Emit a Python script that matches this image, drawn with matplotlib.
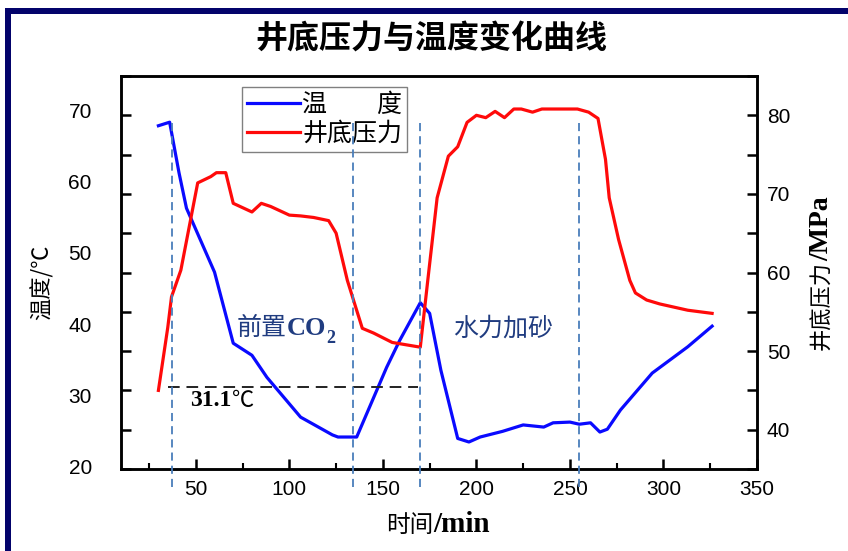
import matplotlib
matplotlib.use("Agg")
import matplotlib.pyplot as plt
import matplotlib.transforms as mtransforms
from matplotlib.patches import Rectangle
from matplotlib.font_manager import FontProperties

CJK = "Noto Sans CJK SC"
SERIF = "Liberation Serif"
plt.rcParams["font.family"] = ["Liberation Sans", CJK]

# bottom-hole temperature (time in min, temperature in ℃)
temp_time = [30, 36, 41, 45, 60, 70, 80, 88, 106, 123, 126, 136, 152, 159, 170,
             175, 181, 190, 196, 202, 214, 225, 236, 241, 250, 255, 261, 266,
             270, 277, 294, 313, 326]
temp_val = [67.9, 68.4, 61.3, 56.3, 47.3, 37.3, 35.6, 32.5, 26.9, 24.4, 24.1,
            24.1, 33.9, 37.7, 43.0, 41.5, 33.5, 23.9, 23.4, 24.1, 24.9, 25.8,
            25.5, 26.1, 26.2, 25.9, 26.1, 24.8, 25.2, 27.9, 33.1, 36.8, 39.7]

# bottom-hole pressure (time in min, pressure in MPa)
press_time = [30, 35, 37, 42, 51, 58, 61, 66, 70, 80, 85, 90, 100, 106, 113,
              121, 125, 131, 139, 145, 155, 170, 174, 179, 185, 190, 195, 200,
              205, 210, 215, 220, 224, 230, 235, 254, 260, 265, 269, 271, 276,
              282, 285, 291, 298, 313, 326]
press_val = [45.0, 53.0, 56.9, 60.3, 71.4, 72.2, 72.7, 72.7, 68.8, 67.7, 68.8,
             68.4, 67.3, 67.2, 67.0, 66.6, 65.0, 59.0, 52.9, 52.3, 51.1, 50.5,
             59.0, 69.5, 74.8, 76.0, 79.1, 80.0, 79.7, 80.5, 79.7, 80.8, 80.8,
             80.4, 80.8, 80.8, 80.4, 79.6, 74.4, 69.5, 64.2, 59.0, 57.4, 56.5,
             56.0, 55.2, 54.8]

series_names = ["温\u3000\u3000度", "井底压力"]
stage_marks = [37, 134, 170, 255]
crit_temp = 31.1
crit_span = [35, 169]

time_ticks = [50, 100, 150, 200, 250, 300, 350]
temp_ticks = [20, 30, 40, 50, 60, 70]
press_ticks = [40, 50, 60, 70, 80]

W, H = 848, 551
fig = plt.figure(figsize=(W / 100, H / 100), dpi=100)
fig.patch.set_facecolor("white")

ax = fig.add_axes([121 / W, 1 - 469 / H, 636 / W, 393 / H])
ax2 = ax.twinx()

ax.plot(temp_time, temp_val, color="#0a0aff", lw=2.3)
ax2.plot(press_time, press_val, color="#ff0a0a", lw=2.3)

ax.set_xlim(10, 350)
ax.set_ylim(19.6, 74.9)
ax2.set_ylim(35, 85)

# axes styling
ax.set_xticks(time_ticks)
ax.set_xticks(range(25, 350, 50), minor=True)
ax.tick_params(axis="x", which="major", direction="in", length=7, width=1.8,
               labelsize=15, pad=8)
ax.tick_params(axis="x", which="minor", direction="in", length=4, width=1.5)
ax.set_yticks(temp_ticks)
ax.tick_params(axis="y", length=0, labelsize=15, pad=21)

ax2.set_yticks(range(35, 90, 5))
ax2.set_yticklabels([str(v) if v in press_ticks else "" for v in range(35, 90, 5)])
ax2.tick_params(axis="y", direction="in", length=7, width=1.8, left=True,
                right=True, labelleft=False, labelright=True, pad=7, labelsize=15)
for a in (ax, ax2):
    for s in a.spines.values():
        s.set_linewidth(1.8)

# stage boundaries
trans = mtransforms.blended_transform_factory(ax2.transData, ax2.transAxes)
for xm in stage_marks:
    ax2.plot([xm, xm], [-0.046, 0.888], transform=trans, color="#4a7ebb",
             lw=1.3, ls=(0, (4.5, 2.8)), clip_on=False, zorder=6)

# CO2 critical temperature
ax.plot(crit_span, [crit_temp, crit_temp], color="#222222", lw=1.4,
        ls=(0, (6, 3.5)))
t = ax.text(47, 29.3, "31.1", family=SERIF, weight="bold", fontsize=17,
            va="center", ha="left")
ax.annotate("℃", xy=(1, 0.5), xycoords=t, va="center", ha="left",
            family=CJK, fontsize=16)

navy = "#203c80"
t = ax.text(72, 39.4, "前置", family=CJK, fontsize=18, color=navy,
            va="center", ha="left")
t = ax.annotate("CO", xy=(1, 0.5), xycoords=t, va="center", ha="left",
                family=SERIF, weight="bold", fontsize=19, color=navy)
ax.annotate("2", xy=(1, 0.05), xycoords=t, va="center", ha="left",
            family=SERIF, weight="bold", fontsize=13, color=navy)
ax.text(187.5, 39.4, "水力加砂", family=CJK, fontsize=18, color=navy,
        va="center", ha="left")

# legend
handles = ax.get_lines()[:1] + ax2.get_lines()[:1]
leg = ax2.legend(handles, series_names, loc="upper left",
                 bbox_to_anchor=(242 / W, 1 - 87 / H),
                 bbox_transform=fig.transFigure,
                 prop=FontProperties(family=CJK, size=18), frameon=True,
                 fancybox=False, edgecolor="#808080", framealpha=1,
                 handlelength=2.1, handletextpad=0.1, borderpad=0.2,
                 labelspacing=0.1, borderaxespad=0)
leg.get_frame().set_linewidth(1.0)

# axis titles
fig.text(431 / W, 1 - 40 / H, "井底压力与温度变化曲线", ha="center", va="center",
         family=CJK, weight="bold", fontsize=23)
fig.text(42 / W, 1 - 282 / H, "温度/℃", rotation=90, ha="center", va="center",
         family=CJK, fontsize=16)
t = fig.text(386 / W, 1 - 525 / H, "时间", ha="left", va="center",
             family=CJK, fontsize=17)
ax.annotate("/min", xy=(1, 0.5), xycoords=t, ha="left", va="center",
            family=SERIF, weight="bold", fontsize=21, annotation_clip=False)
t = fig.text(822 / W, 1 - 350 / H, "井底压力", rotation=90, ha="center",
             va="bottom", family=CJK, fontsize=16)
ax.annotate("/MPa", xy=(0.5, 1), xycoords=t, rotation=90, ha="center",
            va="bottom", family=SERIF, weight="bold", fontsize=20,
            annotation_clip=False)

# outer frame
frame = "#03036b"
fig.add_artist(Rectangle((5 / W, 1 - 14 / H), 1 - 5 / W, 6 / H,
                         transform=fig.transFigure, color=frame, lw=0))
fig.add_artist(Rectangle((5 / W, 0), 6 / W, 1 - 8 / H,
                         transform=fig.transFigure, color=frame, lw=0))

fig.savefig("out.png", dpi=100)
